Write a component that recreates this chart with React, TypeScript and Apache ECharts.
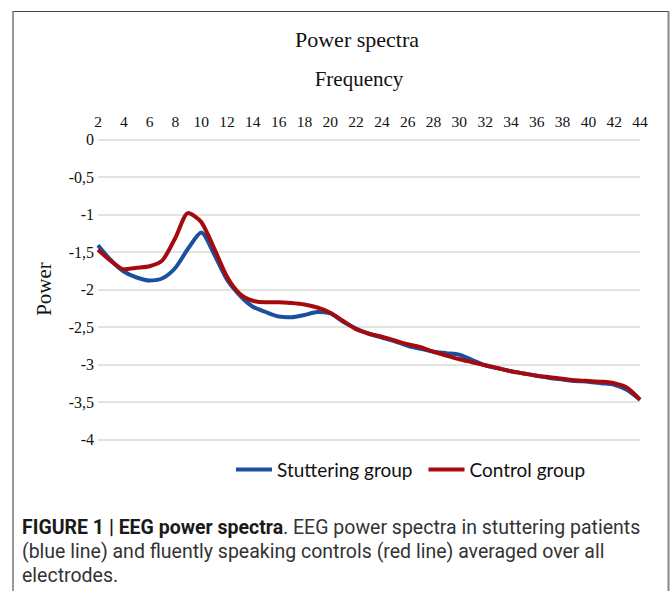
import React, { useEffect, useRef } from "react";
import * as echarts from "echarts";

const frequencies = ["2","3","4","5","6","7","8","9","10","11","12","13","14","15","16","17","18","19","20","21","22","23","24","25","26","27","28","29","30","31","32","33","34","35","36","37","38","39","40","41","42","43","44"];

const stutteringGroup = [-1.41,-1.61,-1.76,-1.84,-1.88,-1.85,-1.71,-1.45,-1.24,-1.53,-1.87,-2.08,-2.23,-2.30,-2.36,-2.37,-2.34,-2.30,-2.32,-2.43,-2.52,-2.59,-2.64,-2.69,-2.75,-2.79,-2.83,-2.85,-2.87,-2.94,-3.01,-3.05,-3.09,-3.12,-3.15,-3.18,-3.20,-3.22,-3.23,-3.25,-3.27,-3.34,-3.47];

const controlGroup = [-1.47,-1.62,-1.73,-1.71,-1.69,-1.61,-1.31,-0.98,-1.10,-1.45,-1.83,-2.06,-2.15,-2.17,-2.17,-2.18,-2.20,-2.24,-2.31,-2.42,-2.53,-2.59,-2.63,-2.68,-2.73,-2.77,-2.83,-2.88,-2.93,-2.97,-3.01,-3.05,-3.09,-3.12,-3.15,-3.17,-3.19,-3.21,-3.22,-3.23,-3.25,-3.31,-3.47];

const seriesNames = ["Stuttering group", "Control group"];
const seriesColors = ["#1B4F9F", "#A50B0E"];

export default function App() {
  const ref = useRef<HTMLDivElement>(null);
  useEffect(() => {
    if (!ref.current) return;
    const chart = echarts.init(ref.current, null, { renderer: "svg" });
    const serif = "'Liberation Serif', 'Times New Roman', serif";
    const caption = "Roboto, 'Liberation Sans', sans-serif";
    chart.setOption({
      animation: false,
      backgroundColor: "#ffffff",
      grid: { left: 98, right: 31, top: 139.5, bottom: 151.5, containLabel: false },
      legend: {
        data: seriesNames,
        left: 231,
        top: 455,
        padding: 5,
        icon: "rect",
        itemWidth: 36,
        itemHeight: 4,
        itemGap: 16,
        textStyle: { fontFamily: "Lato, 'Open Sans', sans-serif", fontSize: 19, color: "#111" },
      },
      xAxis: {
        type: "category",
        position: "top",
        data: frequencies,
        boundaryGap: false,
        axisLine: { show: false },
        axisTick: { show: false },
        axisLabel: { interval: 1, fontFamily: serif, fontSize: 15.5, color: "#111", margin: 10 },
        splitLine: { show: false },
      },
      yAxis: {
        type: "value",
        min: -4,
        max: 0,
        interval: 0.5,
        axisLine: { show: false },
        axisTick: { show: false },
        axisLabel: {
          fontFamily: serif,
          fontSize: 16,
          color: "#111",
          margin: 4,
          formatter: (v: number) => String(v).replace(".", ","),
        },
        splitLine: { lineStyle: { color: "#d9d9d9", width: 1.5 } },
      },
      series: [
        {
          name: seriesNames[0],
          type: "line",
          data: stutteringGroup,
          smooth: 0.25,
          showSymbol: false,
          lineStyle: { width: 4, color: seriesColors[0] },
          itemStyle: { color: seriesColors[0] },
        },
        {
          name: seriesNames[1],
          type: "line",
          data: controlGroup,
          smooth: 0.25,
          showSymbol: false,
          lineStyle: { width: 4, color: seriesColors[1] },
          itemStyle: { color: seriesColors[1] },
        },
      ],
      graphic: [
        { type: "line", shape: { x1: 13, y1: 11.5, x2: 669, y2: 11.5 }, style: { stroke: "#444", lineWidth: 1 } },
        { type: "line", shape: { x1: 13, y1: 11, x2: 13, y2: 600 }, style: { stroke: "#777", lineWidth: 1.5 } },
        { type: "line", shape: { x1: 668.5, y1: 11, x2: 668.5, y2: 600 }, style: { stroke: "#888", lineWidth: 2 } },
        {
          type: "text",
          x: 357,
          y: 39,
          style: { text: "Power spectra", fontFamily: serif, fontSize: 22, fill: "#111", align: "center", verticalAlign: "middle" },
        },
        {
          type: "text",
          x: 359,
          y: 79,
          style: { text: "Frequency", fontFamily: serif, fontSize: 21, fill: "#111", align: "center", verticalAlign: "middle" },
        },
        {
          type: "text",
          x: 44,
          y: 289,
          rotation: Math.PI / 2,
          style: { text: "Power", fontFamily: serif, fontSize: 21, fill: "#111", align: "center", verticalAlign: "middle" },
        },
        {
          type: "text",
          x: 22,
          y: 515,
          style: {
            text: "{b|FIGURE 1 | EEG power spectra}{n|. EEG power spectra in stuttering patients}\n{n|(blue line) and fluently speaking controls (red line) averaged over all}\n{n|electrodes.}",
            rich: {
              b: { fontFamily: caption, fontWeight: "bold", fontSize: 19.5, lineHeight: 24, fill: "#1a1a1a" },
              n: { fontFamily: caption, fontSize: 19.5, lineHeight: 24, fill: "#333" },
            },
          },
        },
      ],
    });
    return () => chart.dispose();
  }, []);
  return <div ref={ref} style={{ position: "absolute", left: 0, top: 0, width: 671, height: 591 }} />;
}
